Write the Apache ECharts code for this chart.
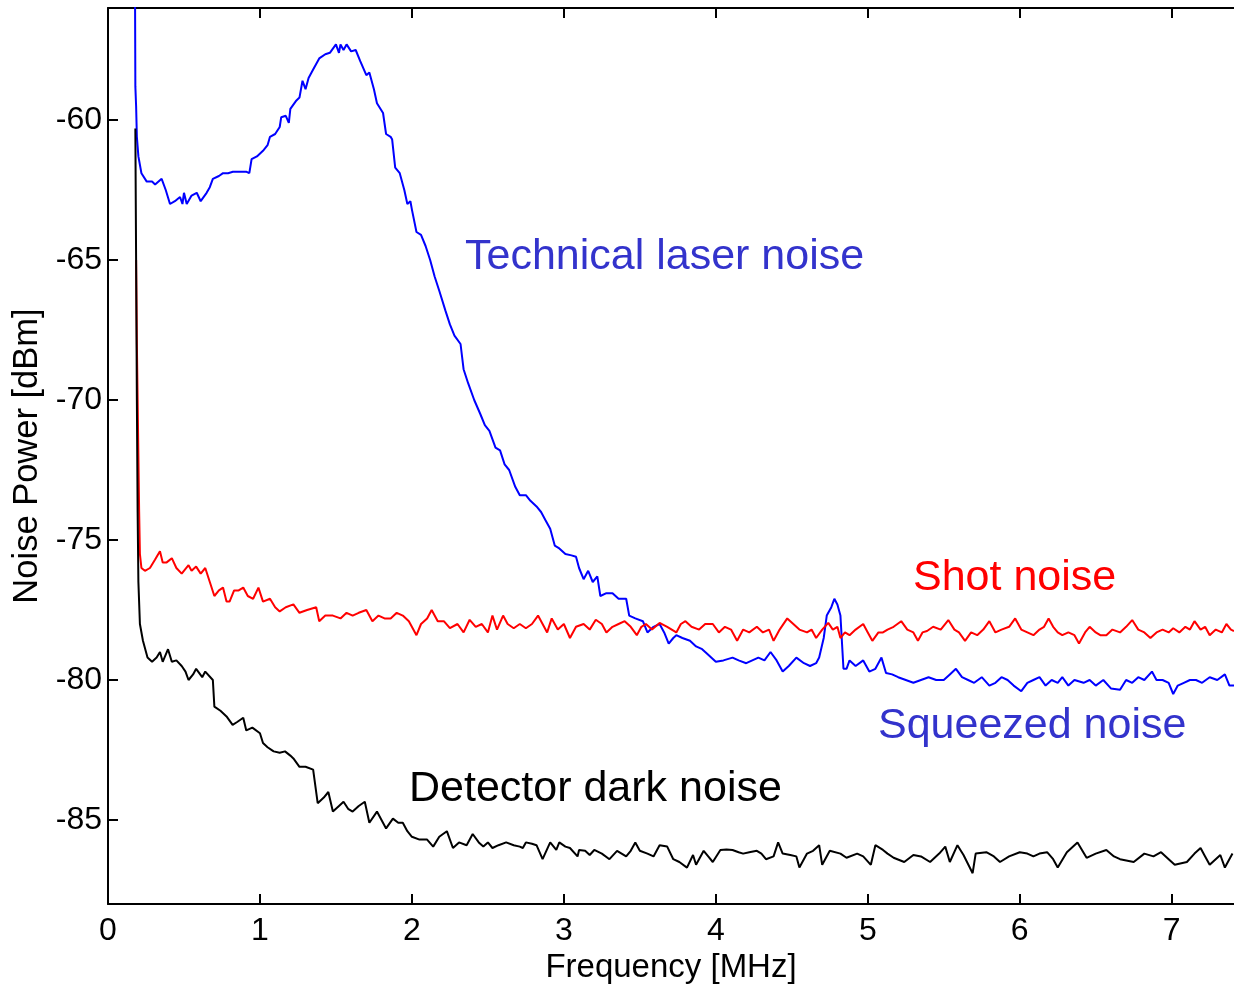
<!DOCTYPE html>
<html>
<head>
<meta charset="utf-8">
<script src="https://cdn.jsdelivr.net/npm/echarts@6/dist/echarts.min.js"></script>
<style>
html,body{margin:0;padding:0;background:#fff;}
#chart{width:1234px;height:986px;}
</style>
</head>
<body>
<div id="chart"></div>
<script>
// Frequency in MHz, noise power in dBm
var technicalLaserNoise = [
[0.177,-54],[0.180,-58.8],[0.185,-59.5],[0.19,-60.6],[0.20,-61.3],[0.22,-61.9],[0.255,-62.2],[0.29,-62.2],[0.31,-62.3],[0.353,-62.1],
[0.38,-62.5],[0.408,-63.0],[0.44,-62.9],[0.474,-62.75],[0.49,-63.0],[0.50,-62.6],[0.518,-63.0],[0.55,-62.7],[0.584,-62.6],[0.61,-62.9],
[0.649,-62.6],[0.67,-62.4],[0.69,-62.1],[0.73,-62.0],[0.757,-61.9],[0.79,-61.9],[0.822,-61.85],[0.87,-61.85],[0.912,-61.85],[0.93,-61.9],
[0.945,-61.4],[0.98,-61.3],[1.02,-61.1],[1.05,-60.9],[1.066,-60.6],[1.10,-60.5],[1.13,-60.25],[1.14,-59.9],[1.17,-59.85],[1.19,-60.1],
[1.20,-59.6],[1.24,-59.3],[1.26,-59.2],[1.28,-58.6],[1.30,-58.9],[1.32,-58.5],[1.35,-58.2],[1.39,-57.8],[1.43,-57.65],[1.46,-57.6],
[1.50,-57.3],[1.52,-57.6],[1.53,-57.3],[1.55,-57.5],[1.57,-57.3],[1.60,-57.55],[1.61,-57.6],[1.63,-57.5],[1.66,-57.9],[1.70,-58.4],
[1.72,-58.3],[1.75,-58.9],[1.77,-59.4],[1.81,-59.75],[1.83,-60.5],[1.86,-60.6],[1.87,-60.7],[1.89,-61.7],[1.92,-61.9],[1.95,-62.5],
[1.97,-63.0],[1.99,-62.9],[2.00,-63.2],[2.03,-64.0],[2.06,-64.1],[2.09,-64.5],[2.12,-65.0],[2.15,-65.6],[2.18,-66.1],[2.22,-66.8],
[2.25,-67.3],[2.28,-67.7],[2.32,-68.0],[2.34,-68.9],[2.37,-69.4],[2.41,-70.0],[2.45,-70.5],[2.48,-70.9],[2.51,-71.1],[2.55,-71.7],
[2.58,-71.8],[2.61,-72.3],[2.64,-72.5],[2.68,-73.1],[2.71,-73.4],[2.75,-73.4],[2.78,-73.6],[2.82,-73.8],[2.85,-74.0],[2.88,-74.3],
[2.91,-74.6],[2.94,-75.2],[2.97,-75.3],[3.01,-75.5],[3.05,-75.55],[3.08,-75.6],[3.10,-76.0],[3.13,-76.4],[3.16,-76.1],[3.19,-76.5],
[3.22,-76.3],[3.24,-77.0],[3.28,-76.9],[3.32,-76.9],[3.36,-77.1],[3.41,-77.1],[3.43,-77.7],[3.47,-77.8],[3.52,-77.9],[3.55,-78.3],
[3.59,-78.1],[3.63,-78.0],[3.66,-78.3],[3.69,-78.7],[3.72,-78.5],[3.74,-78.4],[3.78,-78.5],[3.83,-78.6],[3.87,-78.8],[3.91,-78.9],
[3.95,-79.1],[4.00,-79.35],[4.05,-79.3],[4.11,-79.2],[4.15,-79.3],[4.20,-79.4],[4.24,-79.3],[4.28,-79.2],[4.32,-79.3],[4.36,-79.0],
[4.40,-79.3],[4.44,-79.7],[4.48,-79.5],[4.53,-79.2],[4.58,-79.4],[4.62,-79.5],[4.66,-79.4],[4.68,-79.2],[4.71,-78.5],[4.73,-77.7],
[4.76,-77.4],[4.78,-77.1],[4.80,-77.3],[4.82,-77.7],[4.84,-79.6],[4.86,-79.6],[4.88,-79.3],[4.92,-79.5],[4.97,-79.3],[5.01,-79.7],
[5.05,-79.6],[5.09,-79.2],[5.12,-79.75],[5.16,-79.8],[5.20,-79.9],[5.25,-80.0],[5.30,-80.1],[5.35,-80.0],[5.40,-79.9],[5.45,-80.0],
[5.50,-80.0],[5.54,-79.8],[5.58,-79.6],[5.62,-79.9],[5.66,-80.0],[5.70,-80.1],[5.75,-79.9],[5.80,-80.2],[5.84,-80.1],[5.88,-79.9],
[5.92,-80.0],[5.96,-80.2],[6.01,-80.4],[6.05,-80.1],[6.09,-80.0],[6.13,-79.9],[6.17,-80.2],[6.21,-80.0],[6.25,-80.1],[6.28,-79.9],
[6.32,-80.2],[6.36,-80.0],[6.42,-80.1],[6.46,-80.0],[6.50,-80.2],[6.55,-80.0],[6.60,-80.3],[6.66,-80.35],[6.70,-80.0],[6.74,-80.1],
[6.78,-79.9],[6.82,-80.0],[6.87,-79.7],[6.90,-80.0],[6.94,-80.0],[6.98,-80.1],[7.01,-80.5],[7.04,-80.2],[7.08,-80.1],[7.12,-80.0],
[7.16,-80.0],[7.20,-80.1],[7.25,-79.9],[7.30,-80.0],[7.35,-79.8],[7.38,-80.2],[7.41,-80.2]
];

var shotNoise = [
[0.185,-65.0],[0.19,-68.0],[0.20,-72.0],[0.205,-74.0],[0.21,-75.5],[0.22,-76.0],[0.243,-76.1],[0.276,-76.0],[0.31,-75.7],[0.342,-75.4],
[0.36,-75.8],[0.386,-75.8],[0.42,-75.65],[0.45,-76.0],[0.485,-76.2],[0.53,-75.9],[0.55,-76.1],[0.58,-75.95],[0.61,-76.2],[0.64,-76.0],
[0.67,-76.5],[0.70,-77.0],[0.73,-76.8],[0.757,-76.7],[0.78,-77.2],[0.80,-77.2],[0.83,-76.8],[0.86,-76.8],[0.89,-76.7],[0.92,-77.0],
[0.955,-77.1],[0.99,-76.7],[1.02,-77.2],[1.066,-77.1],[1.10,-77.4],[1.13,-77.55],[1.17,-77.4],[1.22,-77.3],[1.26,-77.6],[1.31,-77.5],
[1.37,-77.4],[1.39,-77.9],[1.43,-77.7],[1.48,-77.7],[1.53,-77.8],[1.57,-77.6],[1.61,-77.7],[1.65,-77.6],[1.70,-77.5],[1.74,-77.9],
[1.78,-77.7],[1.82,-77.8],[1.86,-77.8],[1.90,-77.6],[1.94,-77.7],[1.98,-77.9],[2.03,-78.4],[2.06,-78.0],[2.10,-77.8],[2.13,-77.5],
[2.17,-77.9],[2.21,-77.9],[2.25,-78.15],[2.30,-78.0],[2.34,-78.3],[2.38,-77.85],[2.42,-78.1],[2.46,-78.0],[2.50,-78.3],[2.53,-77.7],
[2.56,-78.2],[2.60,-77.7],[2.63,-78.0],[2.67,-78.15],[2.71,-78.0],[2.75,-78.15],[2.79,-78.0],[2.83,-77.7],[2.86,-78.0],[2.89,-78.3],
[2.92,-77.8],[2.96,-78.2],[3.00,-78.0],[3.04,-78.5],[3.08,-78.1],[3.13,-78.0],[3.17,-78.2],[3.21,-77.85],[3.25,-78.0],[3.28,-78.3],
[3.32,-78.1],[3.36,-78.0],[3.40,-77.9],[3.44,-78.1],[3.48,-78.4],[3.51,-78.1],[3.54,-78.0],[3.58,-78.2],[3.63,-77.96],[3.68,-78.1],
[3.74,-78.3],[3.77,-78.0],[3.80,-77.9],[3.84,-78.1],[3.89,-78.2],[3.93,-78.0],[3.98,-78.0],[4.02,-78.3],[4.06,-78.1],[4.10,-78.2],
[4.14,-78.6],[4.18,-78.2],[4.22,-78.3],[4.27,-78.1],[4.31,-78.3],[4.35,-78.2],[4.38,-78.6],[4.42,-78.2],[4.47,-77.8],[4.51,-78.0],
[4.55,-78.2],[4.60,-78.3],[4.63,-78.2],[4.66,-78.5],[4.70,-78.2],[4.74,-77.96],[4.77,-78.2],[4.80,-78.1],[4.82,-78.5],[4.85,-78.3],
[4.88,-78.4],[4.92,-78.2],[4.97,-78.0],[5.00,-78.3],[5.03,-78.6],[5.07,-78.3],[5.10,-78.3],[5.13,-78.2],[5.17,-78.1],[5.22,-77.9],
[5.26,-78.2],[5.30,-78.3],[5.33,-78.6],[5.36,-78.3],[5.39,-78.25],[5.43,-78.1],[5.48,-78.2],[5.53,-77.86],[5.57,-78.2],[5.60,-78.3],
[5.64,-78.6],[5.68,-78.3],[5.72,-78.4],[5.76,-78.2],[5.80,-77.9],[5.84,-78.3],[5.88,-78.2],[5.93,-78.1],[5.97,-77.8],[6.01,-78.2],
[6.05,-78.3],[6.09,-78.4],[6.13,-78.2],[6.16,-78.1],[6.19,-77.8],[6.22,-78.1],[6.25,-78.3],[6.28,-78.4],[6.32,-78.3],[6.36,-78.4],
[6.39,-78.7],[6.43,-78.3],[6.46,-78.1],[6.50,-78.3],[6.53,-78.4],[6.57,-78.4],[6.61,-78.2],[6.66,-78.3],[6.70,-78.1],[6.74,-77.86],
[6.78,-78.2],[6.82,-78.3],[6.86,-78.5],[6.90,-78.3],[6.94,-78.2],[6.98,-78.3],[7.01,-78.15],[7.05,-78.3],[7.09,-78.1],[7.12,-78.2],
[7.15,-77.9],[7.19,-78.2],[7.22,-78.1],[7.25,-78.4],[7.29,-78.2],[7.33,-78.3],[7.36,-78.0],[7.39,-78.2],[7.41,-78.25]
];

var darkNoise = [
[0.18,-60.3],[0.185,-65.0],[0.19,-70.0],[0.195,-74.0],[0.20,-76.5],[0.21,-78.0],[0.23,-78.6],[0.26,-79.2],[0.29,-79.35],[0.32,-79.2],
[0.342,-79.0],[0.36,-79.35],[0.395,-78.9],[0.42,-79.35],[0.45,-79.3],[0.485,-79.5],[0.51,-79.7],[0.53,-80.0],[0.56,-79.8],[0.58,-79.6],
[0.62,-79.9],[0.64,-79.7],[0.69,-80.0],[0.70,-80.95],[0.74,-81.1],[0.78,-81.3],[0.82,-81.6],[0.85,-81.5],[0.89,-81.35],[0.91,-81.8],
[0.95,-81.7],[1.00,-81.9],[1.02,-82.25],[1.05,-82.4],[1.09,-82.55],[1.13,-82.6],[1.165,-82.55],[1.20,-82.7],[1.22,-82.8],[1.26,-83.1],
[1.30,-83.1],[1.35,-83.2],[1.38,-84.4],[1.42,-84.2],[1.45,-84.0],[1.48,-84.7],[1.52,-84.5],[1.55,-84.35],[1.58,-84.6],[1.61,-84.7],
[1.65,-84.5],[1.69,-84.35],[1.72,-85.1],[1.77,-84.7],[1.80,-85.0],[1.83,-85.3],[1.875,-84.95],[1.91,-85.1],[1.94,-85.1],[1.97,-85.4],
[2.00,-85.6],[2.05,-85.7],[2.10,-85.7],[2.14,-85.95],[2.18,-85.6],[2.23,-85.4],[2.27,-86.0],[2.31,-85.8],[2.36,-85.9],[2.40,-85.5],
[2.44,-85.8],[2.47,-85.95],[2.50,-85.8],[2.53,-86.0],[2.57,-85.9],[2.62,-85.8],[2.67,-85.9],[2.71,-85.95],[2.73,-86.0],[2.75,-85.8],
[2.79,-85.85],[2.82,-85.9],[2.86,-86.4],[2.91,-85.8],[2.95,-86.07],[2.97,-85.8],[3.01,-85.95],[3.04,-86.0],[3.09,-86.3],[3.10,-86.07],
[3.14,-86.1],[3.17,-86.25],[3.20,-86.07],[3.25,-86.2],[3.30,-86.4],[3.35,-86.1],[3.38,-86.2],[3.41,-86.3],[3.44,-86.1],[3.47,-85.8],
[3.50,-86.1],[3.55,-86.2],[3.59,-86.3],[3.63,-85.9],[3.68,-85.95],[3.72,-86.4],[3.76,-86.5],[3.81,-86.7],[3.85,-86.25],[3.87,-86.6],
[3.92,-86.1],[3.95,-86.3],[3.98,-86.5],[4.03,-86.07],[4.07,-86.05],[4.11,-86.07],[4.15,-86.15],[4.18,-86.2],[4.22,-86.15],[4.27,-86.1],
[4.30,-86.2],[4.33,-86.4],[4.38,-86.3],[4.41,-85.8],[4.44,-86.2],[4.49,-86.25],[4.53,-86.3],[4.55,-86.7],[4.60,-86.2],[4.64,-86.1],
[4.68,-85.9],[4.70,-86.6],[4.75,-86.1],[4.82,-86.2],[4.86,-86.35],[4.93,-86.2],[4.97,-86.3],[5.02,-86.6],[5.05,-85.9],[5.10,-86.07],
[5.13,-86.2],[5.17,-86.35],[5.24,-86.5],[5.30,-86.25],[5.35,-86.3],[5.41,-86.5],[5.47,-86.2],[5.51,-85.95],[5.54,-86.5],[5.59,-85.9],
[5.63,-86.25],[5.69,-86.9],[5.71,-86.2],[5.78,-86.15],[5.83,-86.3],[5.87,-86.5],[5.93,-86.3],[6.00,-86.15],[6.05,-86.2],[6.09,-86.3],
[6.13,-86.2],[6.18,-86.15],[6.22,-86.4],[6.25,-86.7],[6.31,-86.15],[6.38,-85.8],[6.44,-86.35],[6.50,-86.2],[6.57,-86.07],[6.62,-86.3],
[6.66,-86.4],[6.75,-86.5],[6.82,-86.2],[6.88,-86.3],[6.93,-86.15],[6.98,-86.4],[7.02,-86.6],[7.10,-86.5],[7.15,-86.2],[7.19,-86.0],
[7.22,-86.3],[7.25,-86.6],[7.32,-86.25],[7.35,-86.7],[7.40,-86.2]
];

var xTicks = [0, 1, 2, 3, 4, 5, 6, 7];
var yTicks = [-85, -80, -75, -70, -65, -60];
var labelTexts = ['Technical laser noise', 'Shot noise', 'Squeezed noise', 'Detector dark noise'];

var FONT = '"Liberation Sans", Arial, sans-serif';
var chart = echarts.init(document.getElementById('chart'), null, {renderer: 'canvas'});

var axisLineStyle = {color: '#000', width: 2};
var option = {
  animation: false,
  backgroundColor: '#fff',
  grid: {left: 108, top: 8, right: 0, bottom: 82, containLabel: false, outerBoundsMode: 'none'},
  xAxis: [{
    type: 'value', position: 'bottom', min: 0, max: 7.41, interval: 1,
    name: 'Frequency [MHz]', nameLocation: 'middle', nameGap: 46,
    nameTextStyle: {fontFamily: FONT, fontSize: 33, color: '#000'},
    axisLine: {show: true, onZero: false, lineStyle: axisLineStyle},
    axisTick: {show: true, inside: true, length: 10, lineStyle: axisLineStyle, customValues: xTicks},
    axisLabel: {show: true, margin: 11, fontFamily: FONT, fontSize: 32, color: '#000', customValues: xTicks,
      showMinLabel: true, showMaxLabel: true},
    splitLine: {show: false}
  }, {
    type: 'value', position: 'top', min: 0, max: 7.41, interval: 1,
    axisLine: {show: true, onZero: false, lineStyle: axisLineStyle},
    axisTick: {show: true, inside: true, length: 10, lineStyle: axisLineStyle, customValues: xTicks},
    axisLabel: {show: false},
    splitLine: {show: false}
  }],
  yAxis: [{
    type: 'value', position: 'left', min: -88, max: -56,
    name: 'Noise Power [dBm]', nameLocation: 'middle', nameGap: 58, nameRotate: 90,
    nameTextStyle: {fontFamily: FONT, fontSize: 34.5, color: '#000'},
    axisLine: {show: true, onZero: false, lineStyle: axisLineStyle},
    axisTick: {show: true, inside: true, length: 10, lineStyle: axisLineStyle, customValues: yTicks},
    axisLabel: {show: true, margin: 6, fontFamily: FONT, fontSize: 32, color: '#000', customValues: yTicks},
    splitLine: {show: false}
  }],
  series: [{
    name: 'Technical laser noise', type: 'line', data: technicalLaserNoise, xAxisIndex: 0,
    showSymbol: false, clip: true, lineStyle: {color: '#0000ff', width: 2}, z: 2
  }, {
    name: 'Shot noise', type: 'line', data: shotNoise, xAxisIndex: 0,
    showSymbol: false, clip: true, lineStyle: {color: '#ff0000', width: 2}, z: 3
  }, {
    name: 'Detector dark noise', type: 'line', data: darkNoise, xAxisIndex: 0,
    showSymbol: false, clip: true, lineStyle: {color: '#000000', width: 2}, z: 4
  }],
  graphic: [
    {type: 'text', left: 465, top: 236, style: {text: labelTexts[0], fill: '#3333cc', font: '43px ' + FONT}},
    {type: 'text', left: 913, top: 557, style: {text: labelTexts[1], fill: '#ff0000', font: '43px ' + FONT}},
    {type: 'text', left: 878, top: 705, style: {text: labelTexts[2], fill: '#3333cc', font: '43px ' + FONT}},
    {type: 'text', left: 409, top: 768, style: {text: labelTexts[3], fill: '#000000', font: '43px ' + FONT}}
  ]
};
chart.setOption(option);
</script>
</body>
</html>
